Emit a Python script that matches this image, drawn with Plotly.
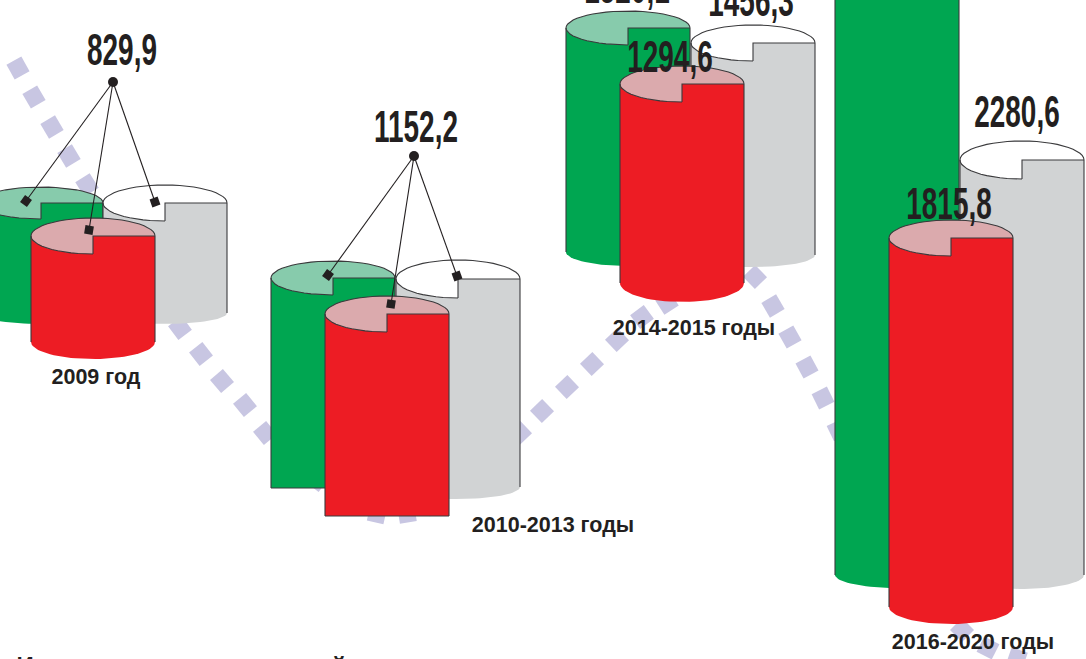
import numpy as np
import plotly.graph_objects as go

# ---- data ----
periods = ["2009 год", "2010-2013 годы", "2014-2015 годы", "2016-2020 годы"]
value_labels = ["829,9", "1152,2", "1456,3", "1294,6", "2280,6", "1815,8"]
edge_label = "1520,1"

# Column tops and bases on the (picture-height) value axis, one list per period: green, grey, red
tops_2009 = [203, 203, 236]
bases_2009 = [313, 313, 342]
tops_2010 = [278, 279, 314]
bases_2010 = [488, 487, 516]
tops_2014 = [28, 43, 84]
bases_2014 = [252, 255, 283]
tops_2016 = [-120, 160, 238]
bases_2016 = [575, 575, 607]

# Trend band behind the columns
trend_x = [18, 34, 52, 69, 87, 105, 123, 141, 160, 180, 201, 222, 245, 265, 288, 317, 345, 377, 407,
           433, 458, 490, 520, 542, 567, 592, 617, 642, 667, 700, 730, 755, 773, 790, 807, 823, 838,
           855, 875, 895, 915, 940, 962, 988, 1017]
trend_y = [68, 97, 127, 156, 185, 213, 241, 270, 300, 328, 354, 381, 405, 433, 457, 480, 500, 514, 514,
           505, 485, 460, 433, 411, 387, 364, 340, 317, 303, 280, 262, 277, 306, 337, 367, 398, 430,
           465, 500, 535, 565, 600, 630, 648, 658]

# ---- layout and style constants ----
W, H = 1086, 659
GREEN, GREY, RED = "#00a651", "#d1d3d4", "#ed1c24"
GREEN_TOP, GREY_TOP, RED_TOP = "#87cbac", "#ffffff", "#dbaaad"
INK = "#231f20"
EDGE = "#3a3a3c"
BAND = "#c8c6e2"
COL_HALF = 62

fig = go.Figure()

# trend band: rotated squares along the curve
tx, ty = np.array(trend_x, float), np.array(trend_y, float)
ang = np.degrees(np.arctan2(np.gradient(tx), -np.gradient(ty)))
fig.add_trace(go.Scatter(x=tx, y=ty, mode="markers",
                         marker=dict(symbol="square", size=17, color=BAND, angle=ang, line=dict(width=0)),
                         hoverinfo="skip"))


def arc(cx, cy, rx, ry, a0, a1, n=40):
    t = np.radians(np.linspace(a0, a1, n))
    return cx + rx * np.cos(t), cy + ry * np.sin(t)


def poly(x, y, fill):
    fig.add_trace(go.Scatter(x=x, y=y, mode="lines", fill="toself", fillcolor=fill,
                             line=dict(width=0, color=fill), hoverinfo="skip"))


def stroke(x, y, w=1.1, color=EDGE):
    fig.add_trace(go.Scatter(x=x, y=y, mode="lines", line=dict(width=w, color=color), hoverinfo="skip"))


def cylinder(cx, top, base, ry, ry_bottom, body, face):
    left, right = cx - COL_HALF, cx + COL_HALF
    # body with rounded or flat base
    if ry_bottom > 0:
        bx, by = arc(cx, base, COL_HALF, ry_bottom, 0, 180)
    else:
        bx, by = np.array([right, left], float), np.array([base, base], float)
    poly(np.r_[left, right, bx], np.r_[top, top, by], body)
    # top face, the front-right quarter shows the body colour
    ax, ay = arc(cx, top, COL_HALF, ry, 90, 360)
    poly(np.r_[cx, ax], np.r_[top, ay], face)
    # outlines
    stroke(ax, ay)
    stroke([cx, cx, right], [top + ry, top, top])
    stroke([left, left], [top, base])
    stroke([right, right], [top, base])
    if ry_bottom == 0:
        stroke([left, right], [base, base])


groups = [
    (41, 165, 93, tops_2009, bases_2009, [11, 11, 17], [16, 18, 18]),
    (333, 458, 387, tops_2010, bases_2010, [0, 12, 0], [17, 19, 18]),
    (628, 753, 682, tops_2014, bases_2014, [14, 12, 19], [17, 18, 18]),
    (897, 1022, 951, tops_2016, bases_2016, [13, 14, 17], [17, 19, 18]),
]
for gx, wx, rx_, tops, bases, ryb, ry in groups:
    cylinder(gx, tops[0], bases[0], ry[0], ryb[0], GREEN, GREEN_TOP)
    cylinder(wx, tops[1], bases[1], ry[1], ryb[1], GREY, GREY_TOP)
    cylinder(rx_, tops[2], bases[2], ry[2], ryb[2], RED, RED_TOP)

# leader lines for the two shared labels
leaders = [
    ((113, 82), [(26, 201), (89, 230), (155, 202)]),
    ((414, 156), [(328, 275), (391, 304), (457, 276)]),
]
for (dx, dy), ends in leaders:
    for ex, ey in ends:
        stroke([dx, ex], [dy, ey], w=1.1, color=INK)
        tilt = float(np.degrees(np.arctan2(ex - dx, ey - dy)))
        fig.add_trace(go.Scatter(x=[ex], y=[ey], mode="markers",
                                 marker=dict(symbol="square", size=8.5, color=INK, angle=-tilt),
                                 hoverinfo="skip"))
    fig.add_trace(go.Scatter(x=[dx], y=[dy], mode="markers",
                             marker=dict(symbol="circle", size=10, color=INK), hoverinfo="skip"))

# value labels
VALUE_FONT = dict(family="Liberation Sans", size=44, color=INK, weight="bold")
label_x = [122, 416, 751, 670, 1017, 949]
label_y = [54, 131, 5, 61, 116, 208]
fig.add_trace(go.Scatter(x=label_x, y=label_y, mode="text", text=value_labels, textposition="middle center",
                         textfont=VALUE_FONT, cliponaxis=False, hoverinfo="skip"))
# this one hangs over the top edge, so it is anchored from below
fig.add_trace(go.Scatter(x=[627], y=[14], mode="text", text=[edge_label], textposition="top center",
                         textfont=VALUE_FONT, cliponaxis=False, hoverinfo="skip"))

# period labels
fig.add_trace(go.Scatter(x=[96, 553, 694, 973], y=[379, 527, 330, 644], mode="text", text=periods,
                         textposition="middle center",
                         textfont=dict(family="Liberation Sans", size=21.5, color=INK, weight="bold"),
                         hoverinfo="skip"))

# clipped line of text at the bottom edge
fig.add_trace(go.Scatter(x=[25, 339], y=[656, 656], mode="text", text=["И", "й"], textposition="bottom center",
                         textfont=dict(family="Liberation Sans", size=24, color=INK, weight="bold"),
                         cliponaxis=False, hoverinfo="skip"))

fig.update_layout(
    width=W, height=H, margin=dict(l=0, r=0, t=0, b=0), showlegend=False,
    paper_bgcolor="white", plot_bgcolor="white",
    xaxis=dict(range=[0, W], visible=False, fixedrange=True),
    yaxis=dict(range=[H, 0], visible=False, fixedrange=True),
)

# the value labels use a strongly condensed face: narrow the real text horizontally
post = """
document.body.style.margin='0';document.documentElement.style.overflow='hidden';
var gd=document.getElementById('{plot_id}');
function narrow(){
  gd.querySelectorAll('.textpoint text').forEach(function(t){
    if(parseFloat(t.style.fontSize)>=40){
      var x=parseFloat(t.getAttribute('x'));
      t.setAttribute('transform','translate('+x+',0) scale(0.635,1) translate('+(-x)+',0)');
    }
  });
}
narrow();gd.on('plotly_afterplot',narrow);
"""
fig.write_html("out.html", config={"displayModeBar": False}, post_script=post)
